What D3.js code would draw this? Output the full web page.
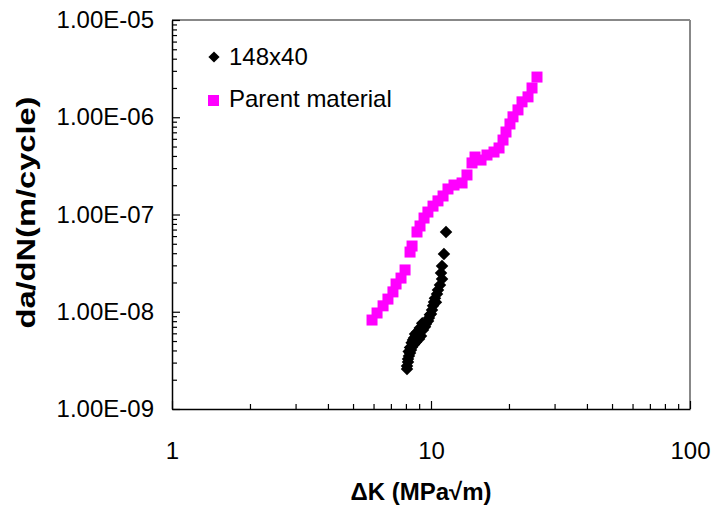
<!DOCTYPE html>
<html lang="en">
<head>
<meta charset="utf-8">
<title>da/dN vs delta K</title>
<script src="https://d3js.org/d3.v7.min.js"></script>
<style>
  body { margin: 0; background: #fff; }
  #chart1 text { font-family: "Liberation Sans", Arial, sans-serif; fill: #000; }
</style>
</head>
<body>
<div id="chart1"></div>
<script>
// ---- data ----
// 148x40 (black diamonds): [deltaK, da/dN]
const weldK = [11.43, 11.22, 11.03, 10.93, 11.03, 10.83, 10.64, 10.55, 10.36, 10.27, 10.18, 10.09, 10.0, 9.82, 9.74,
  9.56, 9.48, 9.40, 9.31, 9.15, 9.07, 8.99, 8.91, 8.83, 8.75, 8.60, 8.75, 8.52, 8.52, 8.45, 8.37, 8.30, 8.22, 8.15, 8.15, 8.08, 8.08,
  9.25, 9.05, 8.85, 8.68, 8.60, 8.42, 8.30, 8.20, 9.90, 10.45];
const weldRate = [6.61e-8, 3.93e-8, 2.95e-8, 2.50e-8, 2.17e-8, 1.88e-8, 1.67e-8, 1.52e-8, 1.38e-8, 1.26e-8, 1.15e-8, 1.04e-8, 9.48e-9, 8.63e-9, 8.03e-9,
  7.48e-9, 7.0e-9, 6.97e-9, 6.49e-9, 5.63e-9, 6.34e-9, 5.25e-9, 5.90e-9, 5.5e-9, 5.63e-9, 5.37e-9, 4.89e-9, 5.13e-9, 4.66e-9, 4.34e-9, 4.04e-9, 3.77e-9, 3.51e-9, 3.27e-9, 3.04e-9, 2.77e-9, 2.58e-9,
  7.6e-9, 6.8e-9, 6.2e-9, 5.9e-9, 4.6e-9, 4.8e-9, 4.3e-9, 3.9e-9, 9.3e-9, 1.25e-8];

// Parent material (magenta squares)
const parentK = [5.92, 6.19, 6.53, 6.82, 7.13, 7.33, 7.66, 7.94, 8.30, 8.45, 8.83, 9.07, 9.40, 9.73, 10.18, 10.64, 11.13, 11.63,
  12.27, 13.18, 13.77, 14.40, 14.79, 15.60, 16.45, 17.51, 18.31, 18.97, 19.48, 20.18, 20.73, 21.67, 22.46, 23.69, 24.55, 25.66];
const parentRate = [8.22e-9, 9.71e-9, 1.15e-8, 1.35e-8, 1.60e-8, 1.93e-8, 2.22e-8, 2.69e-8, 4.11e-8, 4.74e-8, 6.61e-8, 7.62e-8, 9.20e-8, 1.06e-7, 1.22e-7, 1.38e-7, 1.55e-7, 1.83e-7,
  2.01e-7, 2.11e-7, 2.55e-7, 3.39e-7, 3.90e-7, 3.63e-7, 4.09e-7, 4.39e-7, 4.83e-7, 5.83e-7, 7.05e-7, 8.53e-7, 1.01e-6, 1.19e-6, 1.44e-6, 1.62e-6, 2.00e-6, 2.59e-6];

const seriesNames = ["148x40", "Parent material"];
const xTicks = [1, 10, 100];
const xTickLabels = ["1", "10", "100"];
const yTicks = [1e-9, 1e-8, 1e-7, 1e-6, 1e-5];
const yTickLabels = ["1.00E-09", "1.00E-08", "1.00E-07", "1.00E-06", "1.00E-05"];

// ---- chart ----
const W = 713, H = 512;
const margin = {top: 20, right: 23, bottom: 103, left: 172};
const width = W - margin.left - margin.right,
      height = H - margin.top - margin.bottom;

const svg = d3.select("#chart1").append("svg")
    .attr("width", W).attr("height", H)
  .append("g")
    .attr("transform", "translate(" + margin.left + "," + margin.top + ")");

const x = d3.scaleLog().domain([1, 100]).range([0, width]);
const y = d3.scaleLog().domain([1e-9, 1e-5]).range([height, 0]);

// minor ticks 2..9 of each decade
function minors(lo, hi) {
  const out = [];
  for (let p = lo; p < hi; p++) for (let m = 2; m <= 9; m++) out.push(m * Math.pow(10, p));
  return out;
}

// top/right frame in gray
svg.append("line").attr("x1", 0).attr("x2", width).attr("y1", 0).attr("y2", 0)
  .attr("stroke", "#888").attr("stroke-width", 2);
svg.append("line").attr("x1", width).attr("x2", width).attr("y1", 0).attr("y2", height)
  .attr("stroke", "#888").attr("stroke-width", 2);

// x axis
svg.append("g").attr("transform", "translate(0," + height + ")")
  .call(d3.axisBottom(x).tickValues(minors(0, 2)).tickSizeInner(-5).tickSizeOuter(0).tickFormat(""))
  .call(g => g.select(".domain").remove());
const xAxis = svg.append("g").attr("transform", "translate(0," + height + ")")
  .call(d3.axisBottom(x).tickValues(xTicks).tickSizeInner(-8).tickSizeOuter(0)
    .tickPadding(33).tickFormat((d, i) => xTickLabels[i]));
xAxis.selectAll("text").style("font-size", "24px");

// y axis
svg.append("g")
  .call(d3.axisLeft(y).tickValues(minors(-9, -5)).tickSizeInner(-5).tickSizeOuter(0).tickFormat(""))
  .call(g => g.select(".domain").remove());
const yAxis = svg.append("g")
  .call(d3.axisLeft(y).tickValues(yTicks).tickSizeInner(-8).tickSizeOuter(0)
    .tickPadding(18).tickFormat((d, i) => yTickLabels[i]));
yAxis.selectAll("text").style("font-size", "24px");

svg.selectAll(".domain").attr("stroke", "#000").attr("stroke-width", 1.5);
svg.selectAll(".tick line").attr("stroke", "#000").attr("stroke-width", 1.2);

// axis titles
svg.append("text")
  .attr("x", width / 2 - 10).attr("y", height + 91)
  .attr("text-anchor", "middle")
  .style("font-size", "24px").style("font-weight", "bold")
  .text("\u0394K (MPa\u221Am)");

svg.append("text")
  .attr("transform", "translate(" + (-137) + "," + (height / 2 - 2) + ") rotate(-90)")
  .attr("text-anchor", "middle")
  .attr("textLength", 232).attr("lengthAdjust", "spacingAndGlyphs")
  .style("font-size", "25px").style("font-weight", "bold")
  .text("da/dN(m/cycle)");

// points
const diamond = d3.symbol().type(d3.symbolDiamond2).size(100);
const weld = weldK.map((k, i) => ({k: k, r: weldRate[i]}));
const parent = parentK.map((k, i) => ({k: k, r: parentRate[i]}));

svg.selectAll(".parent").data(parent).enter().append("rect")
  .attr("class", "parent")
  .attr("x", d => x(d.k) - 5.5).attr("y", d => y(d.r) - 5.5)
  .attr("width", 11).attr("height", 11)
  .attr("fill", "#ff00ff");

svg.selectAll(".weld").data(weld).enter().append("path")
  .attr("class", "weld")
  .attr("transform", d => "translate(" + x(d.k) + "," + y(d.r) + ")")
  .attr("d", diamond)
  .attr("fill", "#000");

// legend
const legend = svg.append("g").attr("transform", "translate(42,37)");
legend.append("path").attr("transform", "translate(0,0)").attr("d", d3.symbol().type(d3.symbolDiamond2).size(80)).attr("fill", "#000");
legend.append("text").attr("x", 15).attr("y", 8).style("font-size", "24px").text(seriesNames[0]);
legend.append("rect").attr("x", -6).attr("y", 38).attr("width", 11).attr("height", 11).attr("fill", "#ff00ff");
legend.append("text").attr("x", 15).attr("y", 50).style("font-size", "24px").text(seriesNames[1]);
</script>
</body>
</html>
